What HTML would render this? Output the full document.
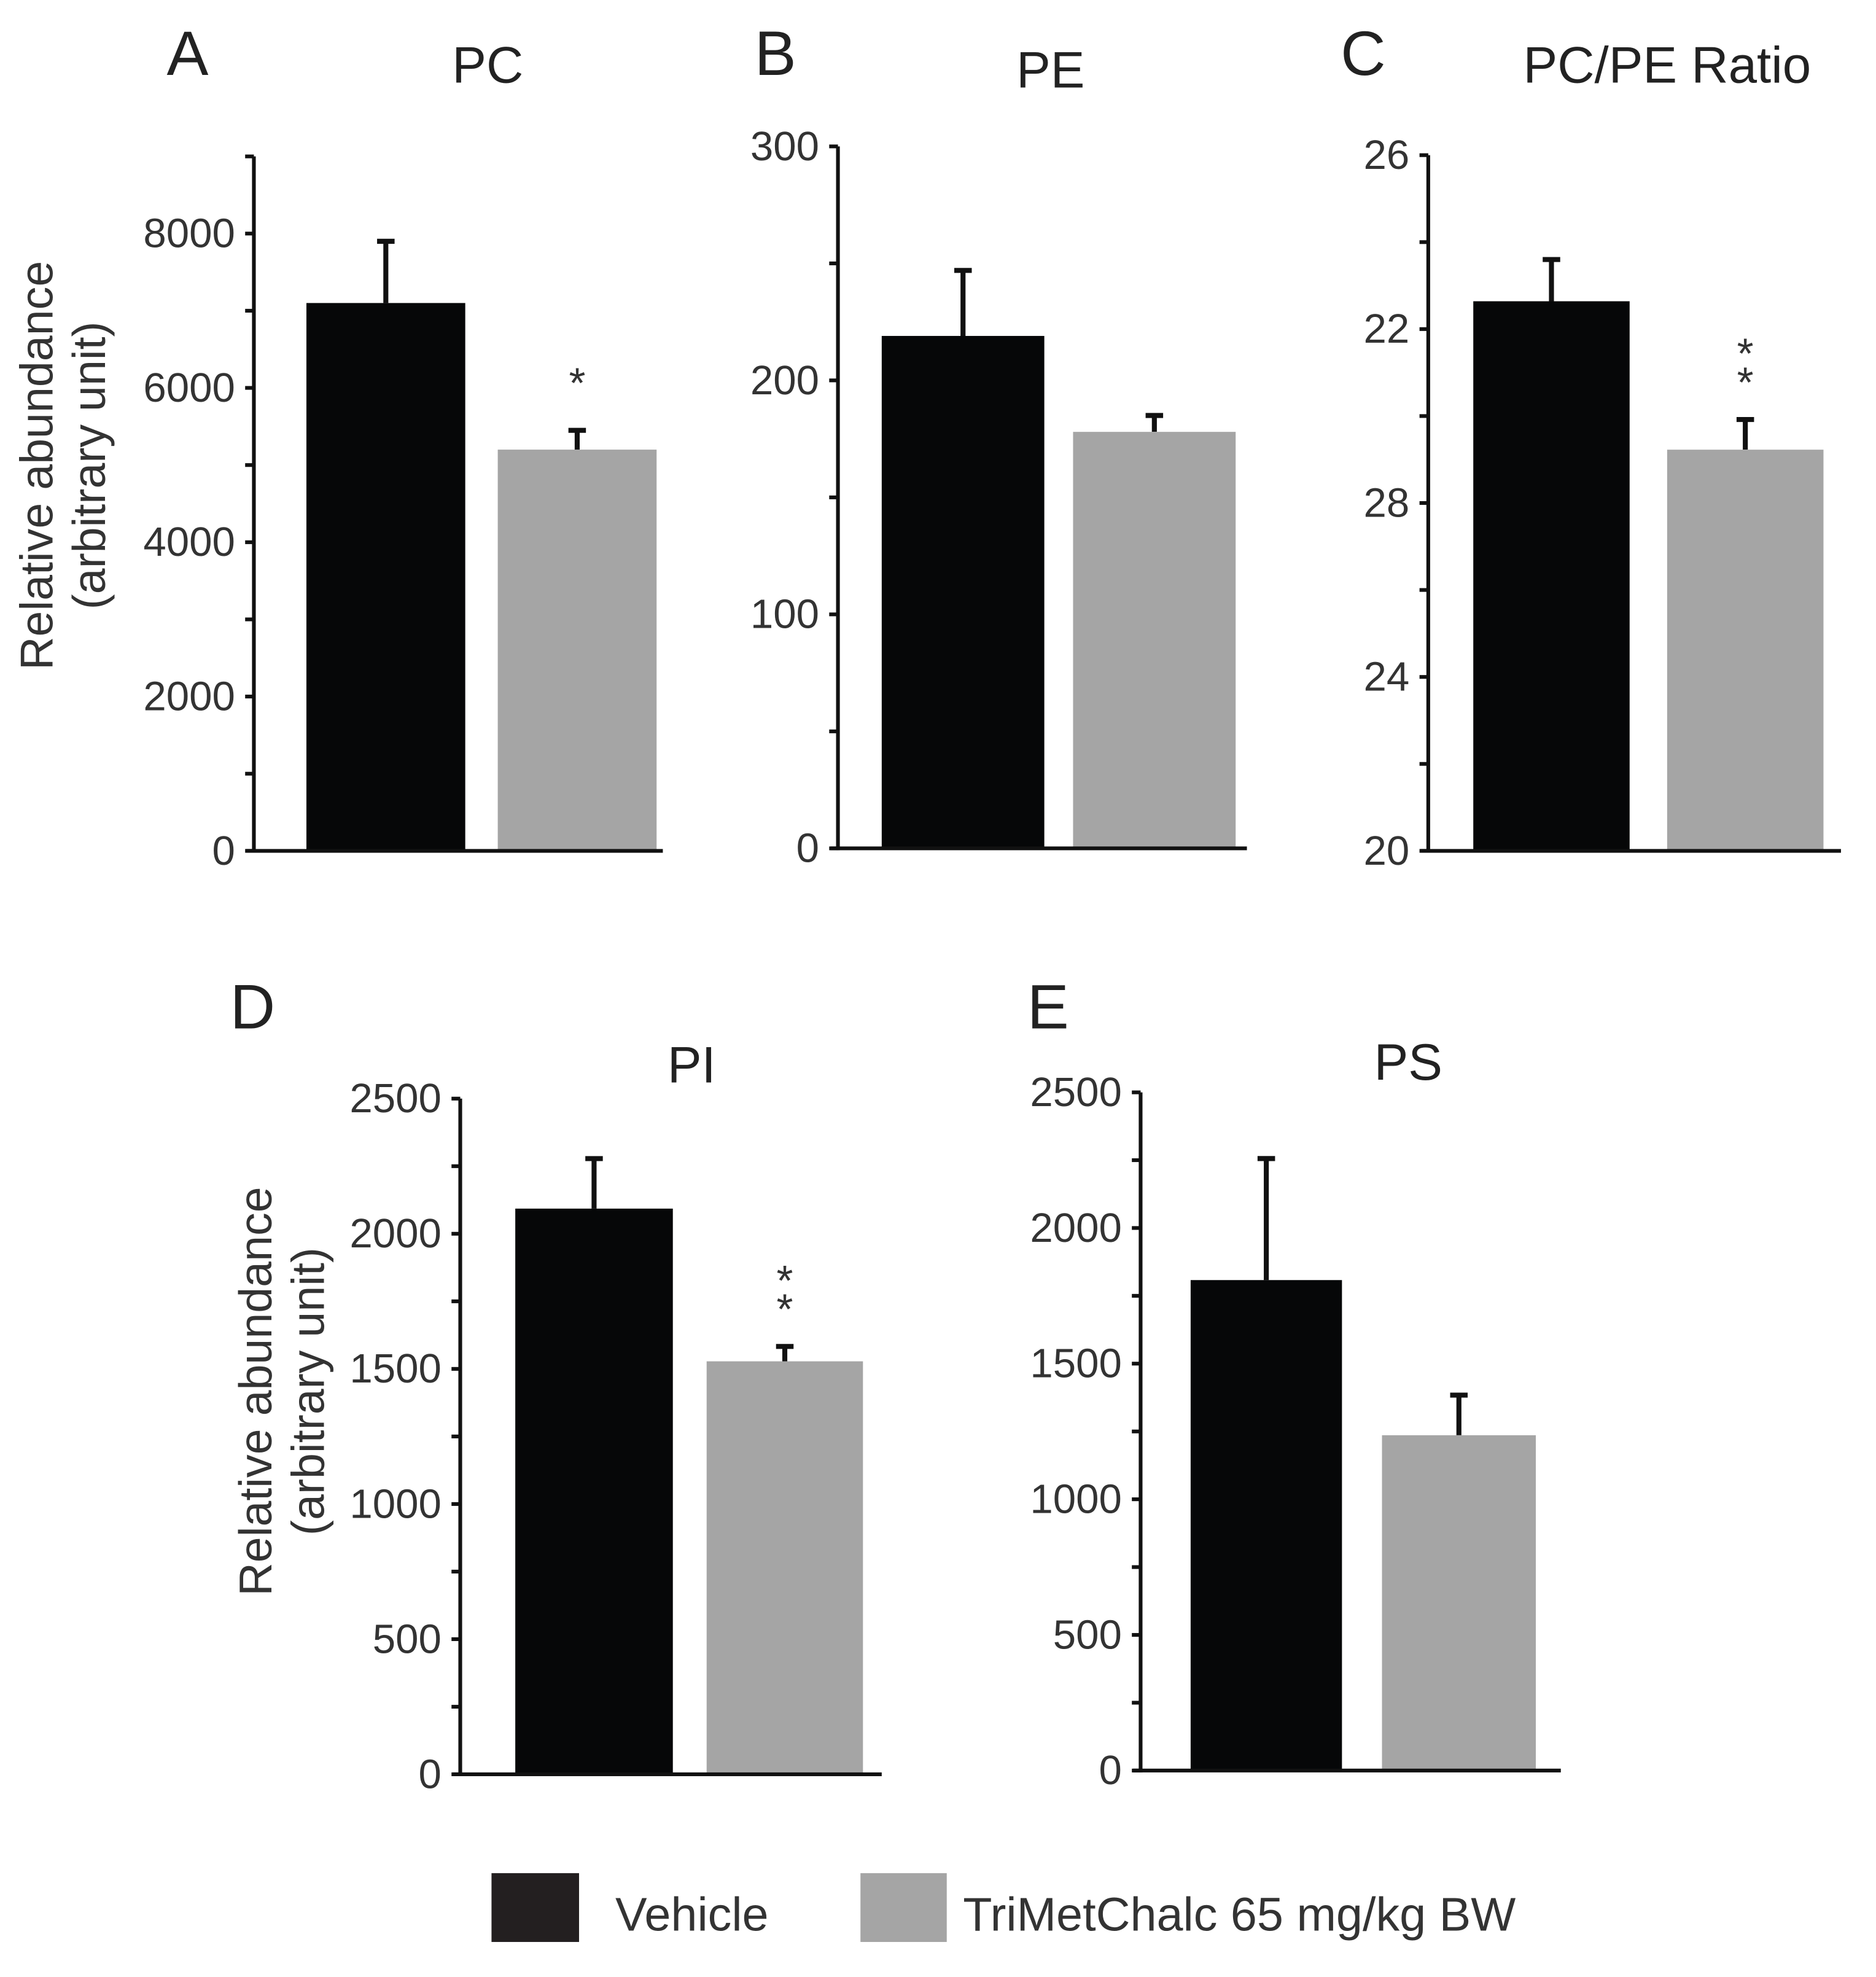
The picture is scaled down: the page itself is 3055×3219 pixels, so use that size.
<!DOCTYPE html>
<html><head><meta charset="utf-8"><style>
html,body{margin:0;padding:0;background:#fff}
svg{display:block;font-family:"Liberation Sans",Arial,sans-serif}
</style></head><body>
<svg id="fig" width="3055" height="3219" viewBox="0 0 1500 1580" preserveAspectRatio="none" xmlns="http://www.w3.org/2000/svg">
<g>
<rect x="393" y="1497" width="70" height="55" fill="#231f20"/>
<text x="492" y="1543" font-size="38" fill="#333">Vehicle</text>
<rect x="688" y="1497" width="69" height="55" fill="#a5a5a5"/>
<text x="770" y="1543" font-size="38" fill="#333">TriMetChalc 65 mg/kg BW</text>
</g>
</svg>
<script>
const NS="http://www.w3.org/2000/svg";
// Data per panel
const categories=["Vehicle","TriMetChalc"];
const pcValues=[7100,5200];const pcErrors=[800,250];
const peValues=[219,178];const peErrors=[28,7];
const ratioValues=[24.74,23.46];const ratioErrors=[0.36,0.26];
const piValues=[2093,1528];const piErrors=[185,55];
const psValues=[1808,1236];const psErrors=[448,148];
const pcTicks=[0,2000,4000,6000,8000];
const peTicks=[0,100,200,300];
const ratioTickPos=[20,21.5,23,24.5,26];
const ratioTickLabels=["20","24","28","22","26"];
const piTicks=[0,500,1000,1500,2000,2500];
const psTicks=[0,500,1000,1500,2000,2500];

const panels=[
 {id:"pc",letter:"A",lx:150,ly:60,title:"PC",tx:390,ty:66,ax:203,top:125,bot:680,xend:530,min:0,max:9000,minor:1000,
  vals:pcValues,errs:pcErrors,ticks:pcTicks,labels:pcTicks.map(String),bars:[[245,372],[398,525]],stars:1,ylab:[30,72,372]},
 {id:"pe",letter:"B",lx:620,ly:60,title:"PE",tx:840,ty:70,ax:670,top:117,bot:678,xend:997,min:0,max:300,minor:50,
  vals:peValues,errs:peErrors,ticks:peTicks,labels:peTicks.map(String),bars:[[705,835],[858,988]],stars:0},
 {id:"ratio",letter:"C",lx:1090,ly:60,title:"PC/PE Ratio",tx:1333,ty:66,ax:1142,top:124,bot:680,xend:1472,min:20,max:26,minor:0.75,
  vals:ratioValues,errs:ratioErrors,ticks:ratioTickPos,labels:ratioTickLabels,bars:[[1178,1303],[1333,1458]],stars:2},
 {id:"pi",letter:"D",lx:202,ly:822,title:"PI",tx:553,ty:865,ax:368,top:878,bot:1418,xend:705,min:0,max:2500,minor:250,
  vals:piValues,errs:piErrors,ticks:piTicks,labels:piTicks.map(String),bars:[[412,538],[565,690]],stars:2,ylab:[205,247,1112]},
 {id:"ps",letter:"E",lx:838,ly:822,title:"PS",tx:1126,ty:863,ax:912,top:873,bot:1415,xend:1248,min:0,max:2500,minor:250,
  vals:psValues,errs:psErrors,ticks:psTicks,labels:psTicks.map(String),bars:[[952,1073],[1105,1228]],stars:0}
];
const svg=document.getElementById("fig");
function mk(tag,attrs,parent,txt){const e=document.createElementNS(NS,tag);for(const k in attrs)e.setAttribute(k,attrs[k]);if(txt!==undefined)e.textContent=txt;parent.appendChild(e);return e;}
panels.forEach(p=>{
 const g=mk("g",{},svg);
 
 
 const y=v=>p.bot-(v-p.min)/(p.max-p.min)*(p.bot-p.top);
 const L=mk("text",{x:p.lx,y:p.ly,"font-size":50,"text-anchor":"middle",fill:"#222"},g,p.letter);
 
 
 const T=mk("text",{x:p.tx,y:p.ty,"font-size":41,"text-anchor":"middle",fill:"#222"},g,p.title);
 
 
 if(p.ylab){
  const a=mk("text",{x:0,y:0,"font-size":37,"text-anchor":"middle",fill:"#333",transform:`translate(${p.ylab[0]+12},${p.ylab[2]}) rotate(-90)`},g,"Relative abundance");
  
  
  const b=mk("text",{x:0,y:0,"font-size":37,"text-anchor":"middle",fill:"#333",transform:`translate(${p.ylab[1]+12},${p.ylab[2]}) rotate(-90)`},g,"(arbitrary unit)");
  
  
 }
 p.vals.forEach((v,i)=>{
  const [x0,x1]=p.bars[i];const cx=(x0+x1)/2;
  const eb=mk("g",{},g);
  
  
  mk("line",{x1:cx,x2:cx,y1:y(v),y2:y(v+p.errs[i]),stroke:"#111","stroke-width":4},eb);
  mk("line",{x1:cx-7,x2:cx+7,y1:y(v+p.errs[i]),y2:y(v+p.errs[i]),stroke:"#111","stroke-width":4},eb);
  const r=mk("rect",{x:x0,y:y(v),width:x1-x0,height:p.bot-y(v),fill:i===0?"#060708":"#a5a5a5"},g);
  
  
 });
 const ya=mk("line",{x1:p.ax,x2:p.ax,y1:p.top,y2:p.bot+1.5,stroke:"#111","stroke-width":3},g);
 
 
 const xa=mk("line",{x1:p.ax-6,x2:p.xend,y1:p.bot,y2:p.bot,stroke:"#111","stroke-width":3},g);
 
 
 for(let v=p.min;v<=p.max+1e-9;v+=p.minor){
  const t=mk("line",{x1:p.ax-7,x2:p.ax,y1:y(v),y2:y(v),stroke:"#111","stroke-width":3},g);
  
  
 }
 p.ticks.forEach((v,i)=>{
  const t=mk("text",{x:p.ax-15,y:y(v)+11,"font-size":33,"text-anchor":"end",fill:"#333"},g,p.labels[i]);
  
  
 });
 const sx=(p.bars[1][0]+p.bars[1][1])/2;
 const top=y(p.vals[1]+p.errs[1]);
 for(let k=0;k<p.stars;k++){
  const s=mk("text",{x:sx,y:top-18-(p.stars-1-k)*23+(p.stars===1?-8:0),"font-size":34,"text-anchor":"middle",fill:"#333"},g,"*");
  
  
 }
});
</script>
</body></html>
